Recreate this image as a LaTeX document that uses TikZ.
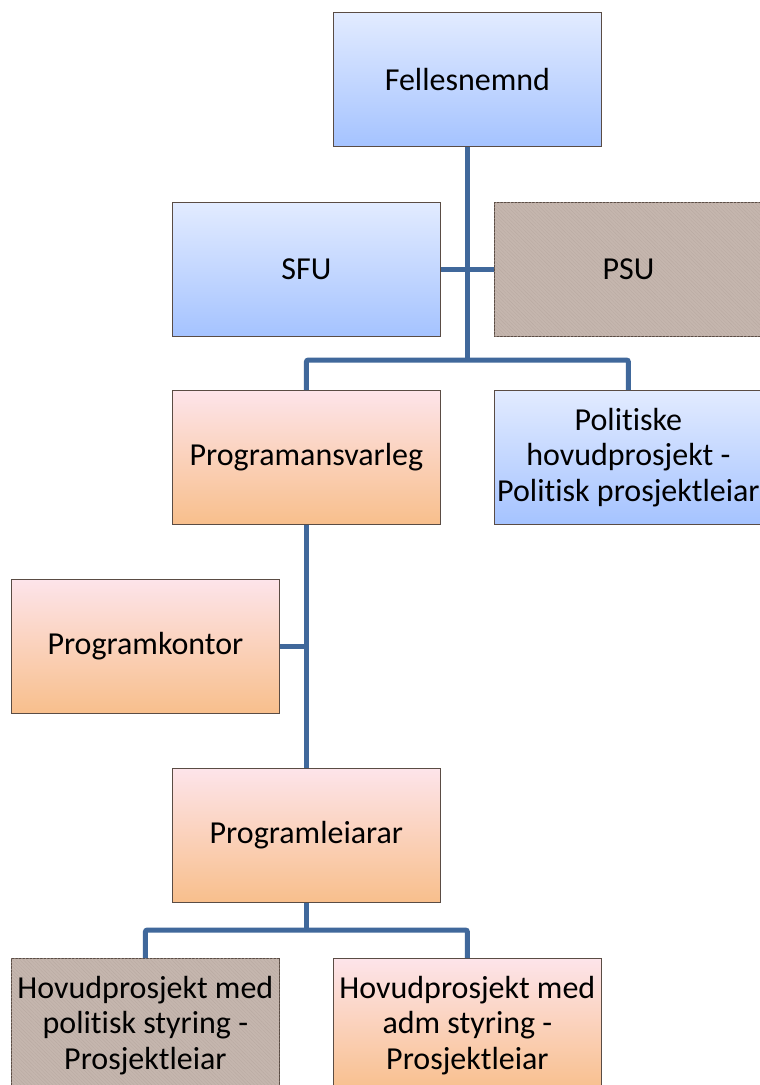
\documentclass[tikz,border=0pt]{standalone}
\usepackage{fontspec}
\setmainfont{Carlito}[Ligatures=NoCommon]
\usetikzlibrary{patterns.meta}
\definecolor{linec}{HTML}{40689B}
\definecolor{bordc}{HTML}{5A4C44}
\definecolor{bluetop}{HTML}{E2EBFF}
\definecolor{bluebot}{HTML}{A5C3FF}
\definecolor{pinktop}{HTML}{FDE4EA}
\definecolor{pinkbot}{HTML}{F8BF8C}
\definecolor{graybox}{HTML}{C5B6AE}
\definecolor{grayhatch}{HTML}{BAAAA2}
\tikzset{
  x=1pt, y=-1pt,
  box/.style={draw=bordc, line width=0.8pt, minimum width=268pt, minimum height=134pt,
    inner sep=1pt, align=center, font=\fontsize{32}{35.5}\selectfont, anchor=north west},
  bluebox/.style={box, top color=bluetop, bottom color=bluebot},
  pinkbox/.style={box, top color=pinktop, bottom color=pinkbot},
  greybox/.style={box, fill=graybox, postaction={pattern={Lines[angle=-45,distance=2.5pt,line width=0.4pt]}, pattern color=grayhatch}},
  conn/.style={draw=linec, line width=5pt},
}
\begin{document}
\begin{tikzpicture}
\useasboundingbox (0,0) rectangle (760,1085);
\clip (0,0) rectangle (760,1085);
\fill[white] (0,0) rectangle (760,1085);
\node[bluebox] (fell) at (333,12) {Fellesnemnd};
\node[bluebox] (sfu) at (172,202) {SFU};
\node[greybox] (psu) at (494,202) {PSU};
\node[pinkbox] (prog) at (172,390) {Programansvarleg};
\node[bluebox] (pol) at (494,390) {Politiske\\hovudprosjekt -\\Politisk prosjektleiar};
\node[pinkbox] (pk) at (11,579) {Programkontor};
\node[pinkbox] (pl) at (172,768) {Programleiarar};
\node[greybox] (b1) at (11,958) {Hovudprosjekt med\\politisk styring -\\Prosjektleiar};
\node[pinkbox] (b2) at (333,958) {Hovudprosjekt med\\adm styring -\\Prosjektleiar};
\coordinate (j1) at (fell.south |- 0,360);
\coordinate (j2) at (pl.south |- 0,930);
\draw[conn] (fell.south) -- (j1);
\draw[conn] (sfu.east) -- (psu.west);
\draw[conn, rounded corners=2pt] (prog.north) |- (j1) -| (pol.north);
\draw[conn] (prog.south) -- (pl.north);
\draw[conn] (pk.east) -- (pk.east -| prog.south);
\draw[conn] (pl.south) -- (j2);
\draw[conn, rounded corners=2pt] (b1.north) |- (j2) -| (b2.north);
\end{tikzpicture}
\end{document}
